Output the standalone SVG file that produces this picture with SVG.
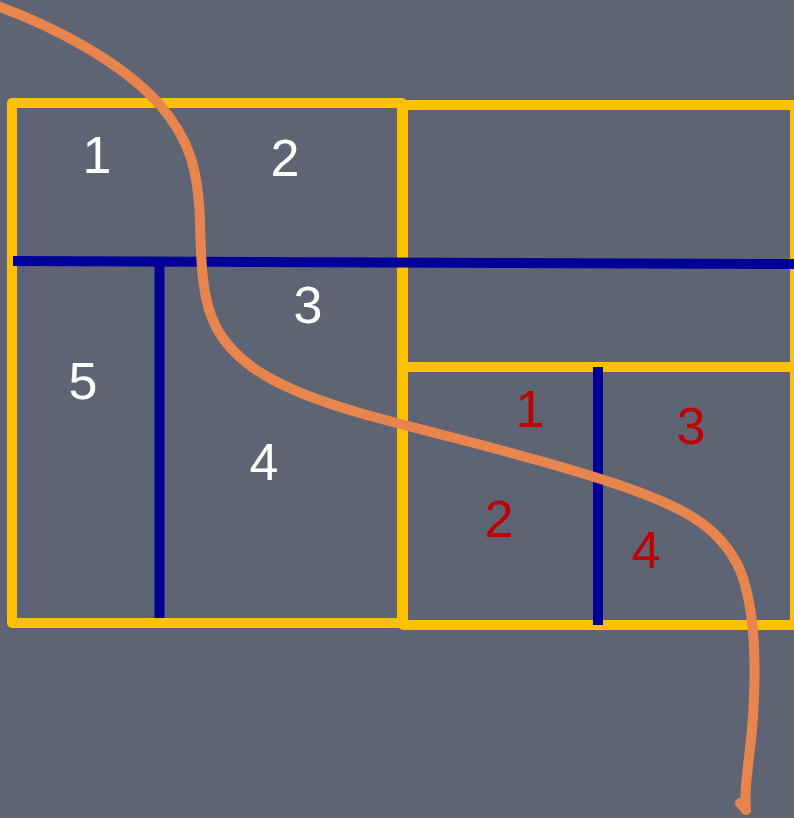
<svg xmlns="http://www.w3.org/2000/svg" width="794" height="818" viewBox="0 0 794 818">
<style>
.frame{fill:none;stroke:#FFC000;stroke-width:10;stroke-linejoin:round}
.cut{fill:none;stroke:#000099;stroke-width:10;stroke-linecap:butt}
.curve{fill:none;stroke:#E8854F;stroke-width:10;stroke-linecap:round;stroke-linejoin:round}
.lbl{font-family:"Liberation Sans",Arial,sans-serif;font-size:52px;text-anchor:middle}
.w{fill:#FFFFFF}
.r{fill:#C00000}
</style>
<rect width="794" height="818" fill="#5E6474"/>
<g id="left-block">
<rect class="frame" x="12" y="103" width="390" height="520"/>
</g>
<g id="right-block">
<rect class="frame" x="403" y="105" width="392" height="520"/>
<line class="frame" x1="403" y1="367" x2="795" y2="367"/>
</g>
<g id="cuts">
<line class="cut" x1="13" y1="261" x2="794" y2="264"/>
<line class="cut" x1="159.5" y1="264" x2="159.5" y2="618"/>
<line class="cut" x1="598" y1="367" x2="598" y2="625"/>
</g>
<g id="labels-left">
<text class="lbl w" x="97" y="173">1</text>
<text class="lbl w" x="285" y="176">2</text>
<text class="lbl w" x="308" y="323">3</text>
<text class="lbl w" x="264" y="480">4</text>
<text class="lbl w" x="83" y="399">5</text>
</g>
<g id="labels-right">
<text class="lbl r" x="530" y="427">1</text>
<text class="lbl r" x="499" y="537">2</text>
<text class="lbl r" x="691" y="444">3</text>
<text class="lbl r" x="646" y="568">4</text>
</g>
<g id="connectors">
<path class="curve" d="M -5,5 C 50,25 120,60 160,105 C 190,140 198,170 200,220 C 201,270 203,300 215,325 C 235,365 280,390 360,413 C 430,433 530,455 610,482 C 680,505 720,525 740,570 C 758,615 756,680 752,730 C 748,770 744,790 746,810"/>
<path class="curve" d="M 740,803 L 746,810"/>
</g>
</svg>
